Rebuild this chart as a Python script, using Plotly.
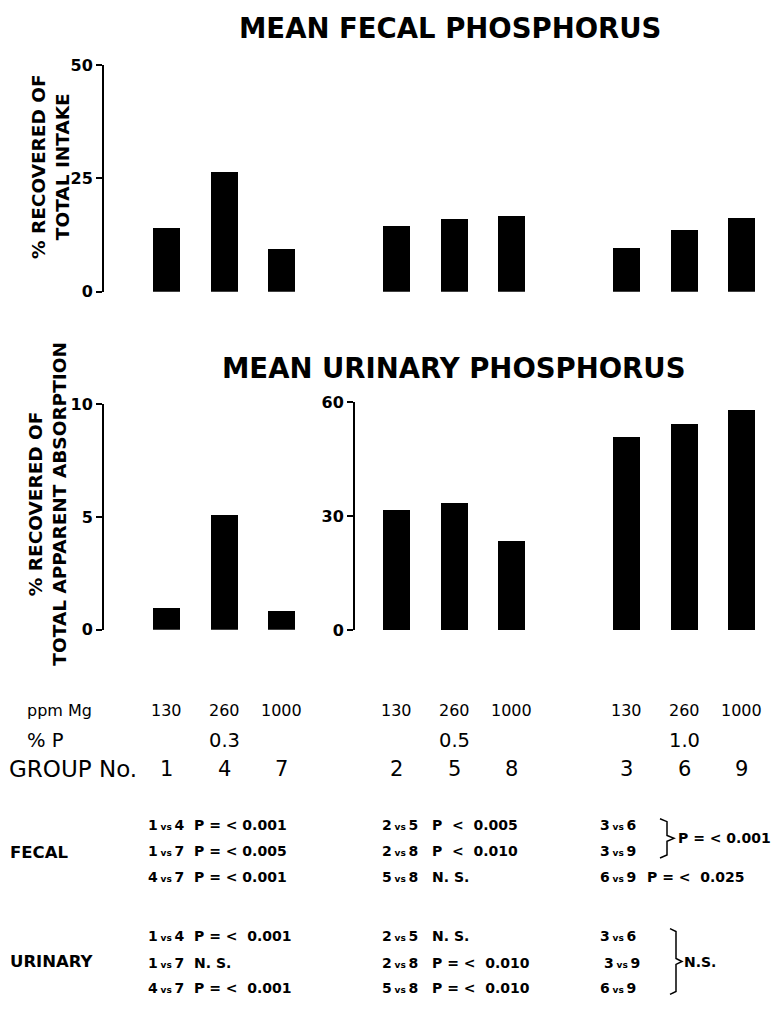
import plotly.graph_objects as go

W, H = 776, 1024

# ---------------- data ----------------
group_no = [1, 4, 7, 2, 5, 8, 3, 6, 9]
ppm_mg = ["130", "260", "1000", "130", "260", "1000", "130", "260", "1000"]
pct_p = ["0.3", "0.5", "1.0"]
fecal_pct = [14.1, 26.3, 9.5, 14.4, 16.0, 16.8, 9.7, 13.6, 16.2]
urinary_pct = [0.97, 5.1, 0.85, 31.6, 33.5, 23.4, 50.7, 54.3, 57.8]
fecal_ticks = [0, 25, 50]
urinary_ticks_low = [0, 5, 10]
urinary_ticks_high = [0, 30, 60]

fecal_pairs = [["1 vs 4", "1 vs 7", "4 vs 7"],
               ["2 vs 5", "2 vs 8", "5 vs 8"],
               ["3 vs 6", "3 vs 9", "6 vs 9"]]
fecal_p = [["P = < 0.001", "P = < 0.005", "P = < 0.001"],
           ["P  <  0.005", "P  <  0.010", "N. S."],
           [None, None, "P = <  0.025"]]
fecal_brace_text = "P = < 0.001"
urinary_pairs = [["1 vs 4", "1 vs 7", "4 vs 7"],
                 ["2 vs 5", "2 vs 8", "5 vs 8"],
                 ["3 vs 6", "3 vs 9", "6 vs 9"]]
urinary_p = [["P = <  0.001", "N. S.", "P = <  0.001"],
             ["N. S.", "P = <  0.010", "P = <  0.010"],
             [None, None, None]]
urinary_brace_text = "N.S."

# ---------------- layout helpers ----------------
X0, U = 166.5, 57.5          # pixel of slot 0 and pixel width per slot
pos = [4 * (k // 3) + (k % 3) for k in range(9)]


def xr(px):
    return (px - X0) / U


def pxx(px):
    return px / W


def pxy(py):
    return 1 - py / H


BLACK = "#000000"
FONT = "DejaVu Sans"

fig = go.Figure()
bar_w = 27 / U
fig.add_trace(go.Bar(x=pos, y=fecal_pct, xaxis="x", yaxis="y", width=bar_w,
                     marker=dict(color=BLACK, line=dict(width=0)), showlegend=False))
fig.add_trace(go.Bar(x=pos[:3], y=urinary_pct[:3], xaxis="x2", yaxis="y2", width=bar_w,
                     marker=dict(color=BLACK, line=dict(width=0)), showlegend=False))
fig.add_trace(go.Bar(x=pos[3:], y=urinary_pct[3:], xaxis="x3", yaxis="y3", width=bar_w,
                     marker=dict(color=BLACK, line=dict(width=0)), showlegend=False))

yax_common = dict(showline=True, linecolor=BLACK, linewidth=2, ticks="outside",
                  ticklen=6, tickwidth=2, tickcolor=BLACK, showgrid=False, zeroline=False,
                  tickfont=dict(family=FONT, size=16, color=BLACK, weight="bold"),
                  fixedrange=True)
xax_common = dict(visible=False, fixedrange=True)

fig.update_layout(
    width=W, height=H, margin=dict(l=0, r=0, t=0, b=0),
    paper_bgcolor="white", plot_bgcolor="white", bargap=0,
    xaxis=dict(domain=[pxx(104), 1], range=[xr(104), xr(776)], anchor="y", **xax_common),
    yaxis=dict(domain=[pxy(288), pxy(57)], range=[0, 50], tickvals=fecal_ticks,
               anchor="x", **yax_common),
    xaxis2=dict(domain=[pxx(104), pxx(330)], range=[xr(104), xr(330)], anchor="y2", **xax_common),
    yaxis2=dict(domain=[pxy(632.5), pxy(402.5)], range=[0, 10], tickvals=urinary_ticks_low,
                anchor="x2", **yax_common),
    xaxis3=dict(domain=[pxx(355), 1], range=[xr(355), xr(776)], anchor="y3", **xax_common),
    yaxis3=dict(domain=[pxy(633), pxy(400.7)], range=[0, 60], tickvals=urinary_ticks_high,
                anchor="x3", **yax_common),
)

anns = []


def ann(text, x, y, size, bold=False, xanchor="center", xref="paper", angle=0, align="center"):
    f = dict(family=FONT, size=size, color=BLACK)
    if bold:
        f["weight"] = "bold"
    anns.append(dict(text=text, x=x, y=pxy(y), xref=xref, yref="paper", showarrow=False,
                     xanchor=xanchor, yanchor="middle", font=f, textangle=angle, align=align))


# titles
ann("MEAN FECAL PHOSPHORUS", pxx(450), 19, 27.5, bold=True)
ann("MEAN URINARY PHOSPHORUS", pxx(453), 366, 27.5, bold=True)
# y titles
ann("% RECOVERED OF<br>TOTAL INTAKE", pxx(50), 160, 18.5, bold=True, angle=-90)
ann("% RECOVERED OF<br>TOTAL APPARENT ABSORPTION", pxx(48), 504, 18.5, bold=True, angle=-90)

# table under the bars
ann("ppm Mg", pxx(25), 715, 16, xanchor="left")
ann("% P", pxx(25), 745, 19.5, xanchor="left")
ann("GROUP No.", pxx(7), 774, 23, xanchor="left")
for k in range(9):
    ann(ppm_mg[k], pos[k], 715, 16, xref="x")
    ann(str(group_no[k]), pos[k], 774, 21, xref="x")
for g in range(3):
    ann(pct_p[g], pos[3 * g + 1], 745, 19.5, xref="x")

# statistics
ann("FECAL", pxx(8), 859, 16.5, bold=True, xanchor="left")
ann("URINARY", pxx(8), 971, 16.5, bold=True, xanchor="left")

fec_rows = [831, 858, 884]
uri_rows = [945, 972, 997]
pair_x = [146, 380, 598]
p_x = [192, 430, 645]
STAT = 14


def pair_html(s):
    a, b = s.split(" vs ")
    return a + "\u2009<span style='font-size:9px'>vs</span>\u2009" + b


for g in range(3):
    for r in range(3):
        ann(pair_html(fecal_pairs[g][r]), pxx(pair_x[g]), fec_rows[r], STAT, bold=True, xanchor="left")
        if fecal_p[g][r]:
            ann(fecal_p[g][r], pxx(p_x[g]), fec_rows[r], STAT, bold=True, xanchor="left")
        ux = pair_x[g] + (4 if (g == 2 and r == 1) else 0)
        ann(pair_html(urinary_pairs[g][r]), pxx(ux), uri_rows[r], STAT, bold=True, xanchor="left")
        if urinary_p[g][r]:
            ann(urinary_p[g][r], pxx(p_x[g]), uri_rows[r], STAT, bold=True, xanchor="left")

ann(fecal_brace_text, pxx(676), 845, STAT, bold=True, xanchor="left")
ann(urinary_brace_text, pxx(682), 971, STAT, bold=True, xanchor="left")


def brace(x_left, x_mid, x_tip, y_top, y_bot):
    ym = (y_top + y_bot) / 2
    pts = [(x_left, y_top), (x_mid, y_top + 3), (x_mid, ym - 3), (x_tip, ym),
           (x_mid, ym + 3), (x_mid, y_bot - 3), (x_left, y_bot)]
    d = "M " + " L ".join(f"{pxx(a):.5f},{pxy(b):.5f}" for a, b in pts)
    return dict(type="path", path=d, xref="paper", yref="paper",
                line=dict(color=BLACK, width=1.5))


fig.update_layout(annotations=anns,
                  shapes=[brace(660, 667, 674, 825, 865), brace(670, 676, 682, 937, 1004)])

fig.write_html("out.html")
